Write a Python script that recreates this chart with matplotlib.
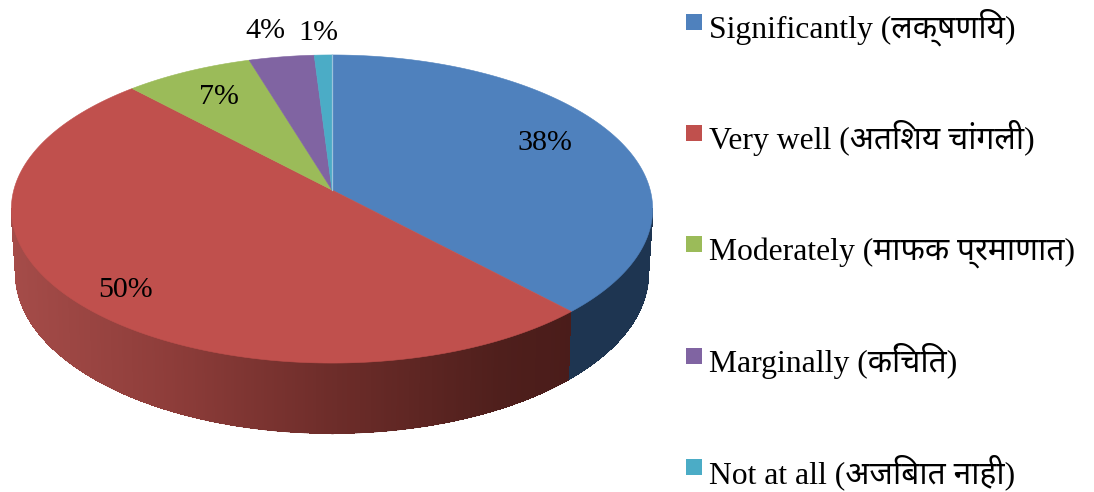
import numpy as np
import matplotlib
matplotlib.use("Agg")
import matplotlib.pyplot as plt
from matplotlib.collections import PolyCollection, LineCollection
from matplotlib.colors import to_rgb

# -----------------------------
# Data
# -----------------------------
categories = ["Significantly (लक्षणिय)", "Very well (अतिशय चांगली)",
              "Moderately (माफक प्रमाणात)", "Marginally (किंचित)",
              "Not at all (अजिबात नाही)"]
shares = [38, 50, 7.3, 3.7, 1]

# -----------------------------
# Styles and layout (pixels)
# -----------------------------
top_colors = ["#4F81BD", "#C0504D", "#9BBB59", "#8064A2", "#4BACC6"]
blue_side = "#1E3551"
red_stops_x = [11, 170, 330, 500, 572]
red_stops = ["#A54C49", "#8E3D3A", "#6E2D2A", "#4F1F1C", "#4A1C1A"]

label_xy = [(545, 142), (125, 289), (219, 96), (265, 30), (318, 32)]
legend_x = 686
legend_y = [14, 125, 236, 348, 459]
fonts = ["Liberation Serif", "Noto Sans Devanagari", "Annapurna SIL", "DejaVu Sans"]

# perspective model of the disc: upper rim and lower rim
cx = 332
upper = dict(y0=190.0, A=318.2, B=151.7, k=0.1234)
lower = dict(y0=252.6, A=313.6, B=157.0, k=0.13)


def rim(frac, p):
    t = 2 * np.pi * np.asarray(frac)
    u, v = np.sin(t), np.cos(t)
    d = 1 + p["k"] * v
    return cx + p["A"] * u / d, p["y0"] - p["B"] * v / d


fig = plt.figure(figsize=(10.94, 4.92), dpi=100)
ax = fig.add_axes([0, 0, 1, 1])
ax.set_xlim(0, 1094)
ax.set_ylim(492, 0)
ax.axis("off")

edges = np.cumsum([0] + shares) / sum(shares)

# -----------------------------
# Side wall (front half only)
# -----------------------------
polys, cols = [], []
start = np.arccos(-0.125) / (2 * np.pi)
f = np.linspace(start, 1 - start, 400)
xu, yu = rim(f, upper)
xl, yl = rim(f, lower)
red_rgb = np.array([to_rgb(c) for c in red_stops])
for i in range(len(f) - 1):
    polys.append([(xu[i], yu[i]), (xu[i + 1], yu[i + 1]), (xl[i + 1], yl[i + 1]), (xl[i], yl[i])])
    if f[i] < edges[1]:
        cols.append(to_rgb(blue_side))
    else:
        xm = 0.5 * (xu[i] + xl[i])
        cols.append([np.interp(xm, red_stops_x, red_rgb[:, j]) for j in range(3)])
ax.add_collection(PolyCollection(polys, facecolors=cols, edgecolors=cols, linewidths=0.5,
                                 antialiased=False, zorder=1))

# smooth outline along the bottom so the wall has no jagged edge
segs = [[(xl[i], yl[i]), (xl[i + 1], yl[i + 1])] for i in range(len(f) - 1)]
ax.add_collection(LineCollection(segs, colors=cols, linewidths=1.0, capstyle="round", zorder=1.5))

# -----------------------------
# Top face
# -----------------------------
for i, c in enumerate(top_colors):
    f = np.linspace(edges[i], edges[i + 1], 200)
    x, y = rim(f, upper)
    x = np.r_[cx, x]
    y = np.r_[upper["y0"], y]
    ax.fill(x, y, facecolor=c, edgecolor=c, linewidth=0.4, zorder=2)

# light seam where the first and last slice meet
x0, y0 = rim(0.0, upper)
ax.plot([cx, x0], [upper["y0"], y0], color="#9CC3DC", lw=0.9, zorder=3)

# -----------------------------
# Labels and legend
# -----------------------------
for v, (x, y) in zip(shares, label_xy):
    ax.text(x, y + 1, f"{round(v)}%", family=fonts, fontsize=21.6, color="black",
            ha="center", va="center", zorder=4)

for name, c, y in zip(categories, top_colors, legend_y):
    ax.fill([legend_x, legend_x + 16, legend_x + 16, legend_x],
            [y, y, y + 16, y + 16], color=c, lw=0, zorder=4)
    ax.text(legend_x + 23, y + 24, name, family=fonts, fontsize=22.8, color="black",
            ha="left", va="baseline", zorder=4)

fig.savefig("out.png", dpi=100)
